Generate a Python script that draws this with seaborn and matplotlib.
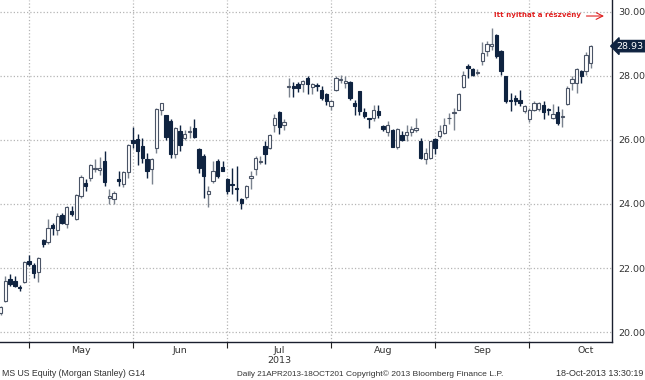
import numpy as np
import pandas as pd
import matplotlib
matplotlib.use("Agg")
import matplotlib.pyplot as plt
import matplotlib.transforms as mtransforms
import seaborn as sns

# -------------------------
# Daily OHLC, MS US Equity, 23 Apr 2013 - 18 Oct 2013
# -------------------------
holidays = ["2013-05-27", "2013-07-04", "2013-09-02"]
dates = pd.bdate_range("2013-04-23", "2013-10-18").drop(pd.to_datetime(holidays))

opens = [20.60, 20.98, 21.65, 21.58, 21.40, 21.55, 22.22, 22.10, 21.89, 22.88,
         22.80, 23.35, 23.18, 23.65, 23.39, 23.78, 23.52, 24.25, 24.64, 24.80,
         25.08, 25.05, 25.34, 24.18, 24.17, 24.79, 24.61, 25.00, 25.99, 26.04,
         25.81, 25.39, 25.08, 25.75, 26.95, 26.77, 26.59, 25.55, 26.27, 26.07,
         26.25, 26.38, 25.72, 25.50, 24.30, 24.72, 25.34, 25.15, 24.77, 24.63,
         24.51, 24.17, 24.22, 24.80, 25.08, 25.32, 25.81, 25.75, 26.46, 26.87,
         26.48, 27.66, 27.68, 27.76, 27.75, 27.94, 27.66, 27.70, 27.57, 27.42,
         27.05, 27.57, 27.87, 27.78, 27.81, 27.16, 27.52, 26.88, 26.66, 26.67,
         26.90, 26.45, 26.24, 26.30, 25.79, 26.15, 26.14, 26.24, 26.30, 25.98,
         25.39, 25.44, 26.04, 26.12, 26.22, 26.67, 26.83, 26.95, 27.64, 28.30,
         28.22, 28.10, 28.48, 28.79, 28.92, 29.29, 28.79, 27.99, 27.26, 27.31,
         27.26, 26.90, 26.64, 26.95, 26.98, 27.10, 26.96, 26.69, 26.88, 26.72,
         27.13, 27.78, 27.78, 28.14, 28.14, 28.40]
closes = [20.77, 21.60, 21.50, 21.45, 21.38, 22.20, 22.14, 21.86, 22.30, 22.76,
          23.26, 23.26, 23.63, 23.42, 23.92, 23.68, 24.27, 24.85, 24.57, 25.21,
          25.10, 25.13, 24.70, 24.24, 24.35, 24.72, 25.00, 25.83, 25.89, 25.65,
          25.44, 25.03, 25.41, 26.98, 27.14, 26.10, 25.57, 26.36, 25.83, 26.19,
          26.28, 26.10, 25.13, 24.87, 24.40, 25.03, 24.87, 25.03, 24.40, 24.58,
          24.46, 24.04, 24.56, 24.87, 25.44, 25.34, 25.55, 26.15, 26.69, 26.40,
          26.56, 27.68, 27.61, 27.63, 27.85, 27.75, 27.75, 27.68, 27.31, 27.21,
          27.21, 27.94, 27.89, 27.85, 27.31, 27.05, 26.90, 26.76, 26.64, 26.95,
          26.77, 26.35, 26.48, 25.79, 26.33, 25.99, 26.24, 26.33, 26.38, 25.44,
          25.60, 25.96, 25.75, 26.27, 26.48, 26.69, 26.85, 27.45, 28.02, 28.25,
          28.02, 28.12, 28.71, 29.00, 28.99, 28.61, 28.16, 27.21, 27.21, 27.21,
          27.16, 27.05, 26.95, 27.16, 27.16, 26.88, 26.94, 26.81, 26.53, 26.76,
          27.62, 27.91, 28.20, 27.99, 28.66, 28.93]
highs = [20.80, 21.76, 21.81, 21.76, 21.48, 22.22, 22.41, 22.17, 22.33, 22.90,
         23.52, 23.42, 23.73, 23.73, 23.94, 23.94, 24.30, 24.89, 24.77, 25.26,
         25.39, 25.46, 25.67, 24.46, 24.40, 25.03, 25.03, 25.86, 26.41, 26.19,
         26.07, 25.60, 25.44, 27.00, 27.16, 26.79, 26.64, 26.40, 26.48, 26.30,
         26.43, 26.66, 25.75, 25.55, 24.55, 25.34, 25.39, 25.34, 24.82, 25.13,
         25.18, 24.20, 24.59, 25.03, 25.50, 25.50, 25.98, 26.17, 26.81, 26.90,
         26.64, 27.94, 27.81, 27.81, 27.88, 27.99, 27.78, 27.78, 27.68, 27.47,
         27.26, 27.99, 28.02, 27.99, 27.83, 27.26, 27.54, 27.00, 26.69, 27.10,
         27.10, 26.48, 26.59, 26.33, 26.38, 26.27, 26.48, 26.43, 26.69, 26.07,
         25.75, 25.98, 26.07, 26.48, 26.70, 26.85, 27.00, 27.47, 28.14, 28.37,
         28.25, 28.22, 29.06, 29.08, 29.49, 29.31, 28.82, 28.00, 27.47, 27.40,
         27.57, 27.10, 27.00, 27.23, 27.20, 27.21, 27.00, 27.13, 27.05, 26.98,
         27.68, 27.99, 28.25, 28.19, 28.74, 28.95]
lows = [20.52, 20.94, 21.45, 21.41, 21.29, 21.52, 22.07, 21.70, 21.55, 22.67,
        22.76, 23.03, 23.03, 23.37, 23.24, 23.63, 23.49, 24.20, 24.40, 24.72,
        25.00, 24.92, 24.56, 23.99, 23.99, 24.56, 24.53, 24.80, 25.75, 25.21,
        25.29, 24.82, 24.61, 25.60, 26.79, 26.01, 25.44, 25.44, 25.67, 26.01,
        26.07, 26.07, 24.98, 24.18, 23.91, 24.66, 24.82, 25.03, 24.30, 24.30,
        24.09, 23.85, 24.15, 24.46, 24.92, 25.24, 25.26, 25.73, 26.24, 26.20,
        26.32, 27.35, 27.35, 27.50, 27.50, 27.44, 27.42, 27.53, 27.26, 27.10,
        26.95, 27.54, 27.78, 27.62, 27.26, 26.79, 26.79, 26.69, 26.38, 26.59,
        26.69, 26.27, 26.12, 25.78, 25.73, 25.96, 25.98, 26.12, 26.25, 25.39,
        25.26, 25.39, 25.55, 26.05, 26.17, 26.50, 26.32, 26.92, 27.62, 27.94,
        27.99, 28.02, 28.35, 28.61, 28.82, 28.56, 28.04, 27.16, 26.90, 27.10,
        27.05, 26.85, 26.56, 26.90, 26.90, 26.64, 26.79, 26.64, 26.48, 26.40,
        27.10, 27.57, 27.47, 27.78, 28.04, 28.25]

y_ticks = [20, 22, 24, 26, 28, 30]
month_names = ["May", "Jun", "Jul", "Aug", "Sep", "Oct"]
note_text = "Itt nyithat a részvény"
footer_left = "MS US Equity (Morgan Stanley) G14"
footer_mid = "Daily 21APR2013-18OCT201"
footer_copy = "Copyright\u00a9 2013 Bloomberg Finance L.P."
footer_time = "18-Oct-2013 13:30:19"

df = pd.DataFrame({"date": dates, "open": opens, "high": highs,
                   "low": lows, "close": closes})
df["x"] = np.arange(len(df))
df["up"] = df["close"] >= df["open"]

# first trading day of each month -> grid lines
starts = df.groupby(df["date"].dt.to_period("M"))["x"].min().values[1:]
label_pos = list((starts[:-1] + starts[1:]) / 2) + [starts[-1] + 12]

# -------------------------
# Plot
# -------------------------
sns.set_theme(style="white")
plt.rcParams["font.family"] = ["DejaVu Sans"]

navy = "#0f2340"
grey_edge = "#4a5466"
txt = "#333333"

fig = plt.figure(figsize=(6.45, 3.8), dpi=100)
ax = fig.add_axes([0, 38 / 380, 612 / 645, 342 / 380])

wick_cols = np.where(df["up"], "#7a828e", navy)
ax.vlines(df["x"], df["low"], df["high"], colors=wick_cols, linewidth=1, zorder=2)

body_bottom = df[["open", "close"]].min(axis=1)
body_h = (df["close"] - df["open"]).abs().clip(lower=0.03)
ax.bar(df["x"], body_h, bottom=body_bottom, width=0.7,
       color=np.where(df["up"], "white", navy),
       edgecolor=np.where(df["up"], grey_edge, navy),
       linewidth=0.8, zorder=3)

ax.set_xlim(-0.15, 129.5)
ax.set_ylim(19.69, 30.37)

# y axis on the right
ax.yaxis.tick_right()
ax.set_yticks(y_ticks)
ax.set_yticks([21, 23, 25, 27, 29], minor=True)
ax.set_yticklabels([f"{v:.2f}" for v in y_ticks], fontsize=6.8, color=txt)
ax.tick_params(axis="y", which="both", right=True, length=4, width=0.8,
               color="#222222", pad=0.5)

# x axis: ticks at month starts, labels between them
ax.set_xticks(starts)
ax.set_xticklabels([])
ax.set_xticks(label_pos, minor=True)
ax.set_xticklabels(month_names, minor=True, fontsize=6.8, color=txt)
ax.tick_params(axis="x", which="major", bottom=True, length=4, width=0.8,
               color="#222222")
ax.tick_params(axis="x", which="minor", bottom=True, length=0, pad=3)
jul = month_names.index("Jul")
ax.text(label_pos[jul], -0.042, "2013", transform=ax.get_xaxis_transform(),
        ha="center", va="top", fontsize=6.8, color=txt)

ax.grid(True, which="major", linestyle=":", color="#b5b5b5", linewidth=0.9)
sns.despine(ax=ax, left=True, top=True, right=False, bottom=False)
for s in ["right", "bottom"]:
    ax.spines[s].set_color("#1a1f2e")
    ax.spines[s].set_linewidth(1)

# last price tag
trans = mtransforms.blended_transform_factory(ax.transAxes, ax.transData)
ax.text(1.0075, closes[-1], f"{closes[-1]:.2f}", transform=trans,
        ha="left", va="center", fontsize=6.8, color="white",
        bbox=dict(boxstyle="larrow,pad=0.12", fc=navy, ec=navy), clip_on=False)

# red note + arrow
red = "#e02020"
ax.text(113.7, 29.93, note_text, ha="center", va="center", fontsize=5.1,
        fontweight="bold", color=red)
ax.annotate("", xy=(128.4, 29.87), xytext=(123.5, 29.87),
            arrowprops=dict(arrowstyle="->", color=red, lw=0.8))

# footer (narrower face so the four pieces fit like the original)
fy = 0.01
ff = ["Liberation Sans", "DejaVu Sans"]
fig.text(0.003, fy, footer_left, fontsize=6.3, color=txt, family=ff)
fig.text(237 / 645, fy, footer_mid, fontsize=5.9, color=txt, family=ff)
fig.text(346 / 645, fy, footer_copy, fontsize=6.1, color=txt, family=ff)
fig.text(643 / 645, fy, footer_time, fontsize=6.5, color=txt, family=ff,
         ha="right")

fig.savefig("out.png", dpi=100)
